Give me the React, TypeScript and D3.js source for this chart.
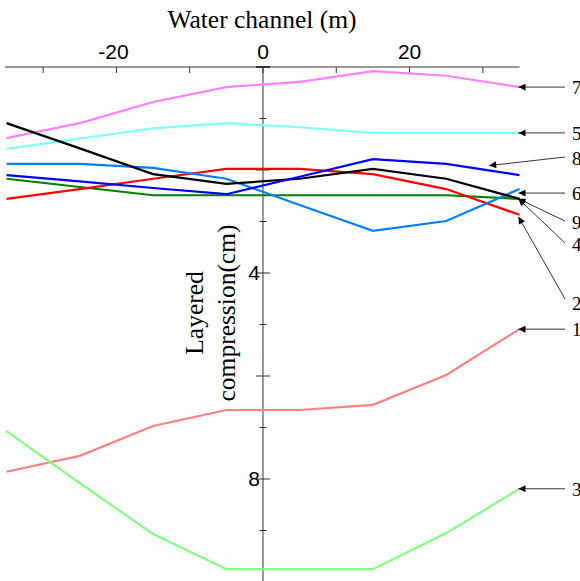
import * as React from "react";
import * as d3 from "d3";

// distance along the channel (m)
const xValues = [-35, -25, -15, -5, 5, 15, 25, 35];

// layered compression (cm), one array per measuring line
const s1 = [7.86, 7.55, 6.97, 6.66, 6.66, 6.56, 5.98, 5.09];
const s2 = [2.56, 2.37, 2.17, 1.98, 1.98, 2.08, 2.37, 2.87];
const s3 = [7.07, 8.08, 9.07, 9.75, 9.75, 9.75, 9.05, 8.19];
const s4 = [2.17, 2.33, 2.49, 2.49, 2.49, 2.49, 2.49, 2.56];
const s5 = [1.59, 1.39, 1.19, 1.09, 1.17, 1.28, 1.28, 1.28];
const s6 = [1.88, 1.88, 1.96, 2.17, 2.68, 3.18, 2.99, 2.37];
const s7 = [1.38, 1.09, 0.68, 0.39, 0.29, 0.08, 0.17, 0.39];
const s8 = [2.1, 2.22, 2.35, 2.47, 2.13, 1.79, 1.88, 2.1];
const s9 = [1.09, 1.58, 2.08, 2.27, 2.17, 1.98, 2.17, 2.56];

const xTicks = [-30, -20, -10, 0, 10, 20, 30];
const xTickLabels = [-20, 0, 20];
const yTicks = [0, 1, 2, 3, 4, 5, 6, 7, 8, 9, 10];
const yTickLabels = [4, 8];

const series = [
  { key: "7", values: s7, color: "#ff80ff" },
  { key: "5", values: s5, color: "#80ffff" },
  { key: "1", values: s1, color: "#ff8080" },
  { key: "3", values: s3, color: "#80ff80" },
  { key: "4", values: s4, color: "#008000" },
  { key: "2", values: s2, color: "#ff0000" },
  { key: "6", values: s6, color: "#0080ff" },
  { key: "9", values: s9, color: "#000000" },
  { key: "8", values: s8, color: "#0000ff" },
];

// pointer labels: which line, where on it the arrow points, and where the label sits
const notes = [
  { key: "7", at: 35, fromY: null, labelY: null, dy: 0 },
  { key: "5", at: 35, fromY: null, labelY: null, dy: 0 },
  { key: "8", at: 31, fromY: 157, labelY: 159, dy: -5 },
  { key: "6", at: 35, fromY: null, labelY: null, dy: 4 },
  { key: "9", at: 35, fromY: 221, labelY: 223, dy: 0 },
  { key: "4", at: 35, fromY: 243, labelY: 245, dy: 0 },
  { key: "2", at: 35, fromY: 299, labelY: 304, dy: 2 },
  { key: "1", at: 35, fromY: null, labelY: null, dy: 0 },
  { key: "3", at: 35, fromY: null, labelY: null, dy: 0 },
];

const W = 580;
const H = 581;

export default function App() {
  const x = d3.scaleLinear().domain([-35, 35]).range([6.5, 519.5]);
  const y = d3.scaleLinear().domain([0, 10]).range([67, 582]);

  const line = d3
    .line<number>()
    .x((_, i) => x(xValues[i]))
    .y((d) => y(d));

  const valueAt = (vals: number[], xv: number) => {
    const f = d3.scaleLinear().domain(xValues).range(vals);
    return f(xv);
  };

  const axisColor = "#333";
  const serif = "'Liberation Serif', 'Times New Roman', serif";
  const sans = "'Liberation Sans', Arial, sans-serif";

  return (
    <svg
      width={W}
      height={H}
      style={{ position: "absolute", left: 0, top: 0, background: "#fff" }}
    >
      <defs>
        <marker
          id="arr"
          viewBox="0 0 10 10"
          refX="10"
          refY="5"
          markerWidth="9"
          markerHeight="7"
          markerUnits="userSpaceOnUse"
          orient="auto"
        >
          <path d="M0,0 L10,5 L0,10 z" fill="#000" />
        </marker>
      </defs>

      <text x={262} y={28} textAnchor="middle" fontFamily={serif} fontSize={25.5}>
        Water channel (m)
      </text>

      {/* x axis along the top */}
      <line x1={5} x2={x(35)} y1={y(0)} y2={y(0)} stroke={axisColor} strokeWidth={1} />
      {xTicks.map((t) => (
        <line key={t} x1={x(t)} x2={x(t)} y1={y(0)} y2={y(0) + 6} stroke={axisColor} />
      ))}
      {xTickLabels.map((t) => (
        <text key={t} x={x(t) - (t < 0 ? 3 : 0)} y={59} textAnchor="middle" fontFamily={sans} fontSize={21}>
          {t}
        </text>
      ))}

      {/* y axis at x = 0 */}
      <line x1={x(0)} x2={x(0)} y1={y(0)} y2={H} stroke={axisColor} strokeWidth={1} />
      {yTicks.map((t) => {
        const h = t % 2 === 0 ? 7 : 3.5;
        return (
          <line
            key={t}
            x1={x(0) - h}
            x2={x(0) + h}
            y1={y(t)}
            y2={y(t)}
            stroke={axisColor}
            strokeWidth={t === 0 ? 2 : 1}
          />
        );
      })}
      {yTickLabels.map((t) => (
        <text key={t} x={x(0) - 3} y={y(t) + 7} textAnchor="end" fontFamily={sans} fontSize={21}>
          {t}
        </text>
      ))}

      <g transform="translate(0,313) rotate(-90)" fontFamily={serif} fontSize={25.5} textAnchor="middle">
        <text x={0} y={203}>Layered</text>
        <text x={0} y={235}>compression(cm)</text>
      </g>

      {series.map((s) => (
        <path key={s.key} d={line(s.values) || ""} fill="none" stroke={s.color} strokeWidth={2.2} />
      ))}

      {notes.map((n) => {
        const s = series.find((d) => d.key === n.key)!;
        const tx = x(n.at) - 1;
        const ty = y(valueAt(s.values, n.at)) + n.dy;
        const fy = n.fromY === null ? ty : n.fromY;
        const ly = n.labelY === null ? ty + 1 : n.labelY;
        return (
          <g key={n.key}>
            <line x1={565} y1={fy} x2={tx} y2={ty} stroke="#000" strokeWidth={0.8} markerEnd="url(#arr)" />
            <text x={572} y={ly + 6} fontFamily={serif} fontSize={19}>
              {n.key}
            </text>
          </g>
        );
      })}
    </svg>
  );
}
